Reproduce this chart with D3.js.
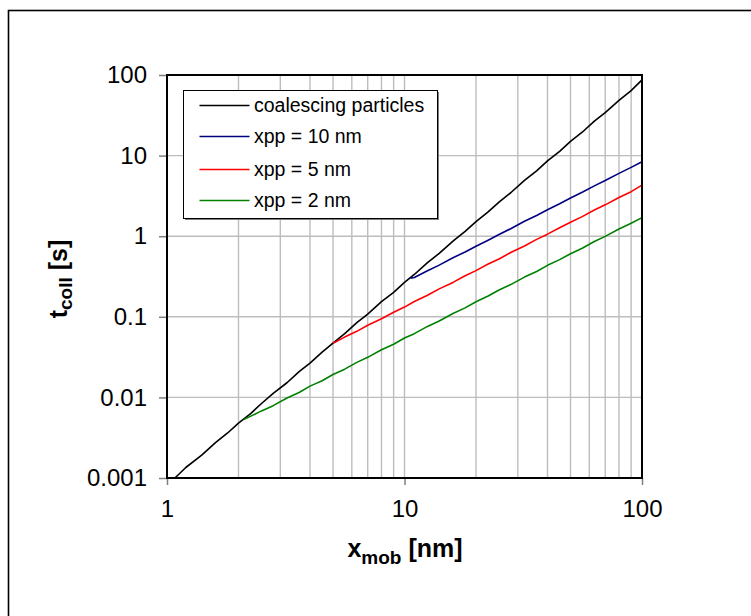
<!DOCTYPE html>
<html>
<head>
<meta charset="utf-8">
<script src="https://cdn.jsdelivr.net/npm/d3@7"></script>
<style>
  html, body { margin: 0; padding: 0; background: #fff; }
  svg { display: block; font-family: "Liberation Sans", Arial, sans-serif; }
</style>
</head>
<body>
<svg id="chart" width="751" height="616"></svg>
<script>
// Collision time vs. mobility diameter (log-log)
const xCoalescing = [1.08, 1.2, 1.4, 1.6, 1.8, 2.0, 2.25, 2.5, 2.8, 3.2, 3.6, 4.0, 4.5, 5.0, 5.6, 6.3, 7.0, 8.0, 9.0, 10, 11, 12.5, 14, 16, 18, 20, 22.5, 25, 28, 32, 36, 40, 45, 50, 56, 63, 70, 80, 90, 100];
const yCoalescing = [0.00100, 0.00135, 0.00192, 0.00275, 0.00362, 0.00480, 0.00630, 0.00840, 0.0112, 0.0152, 0.0209, 0.0266, 0.0364, 0.0470, 0.0618, 0.0845, 0.108, 0.154, 0.201, 0.268, 0.335, 0.470, 0.612, 0.870, 1.15, 1.52, 2.00, 2.65, 3.46, 4.92, 6.48, 8.60, 11.3, 15.0, 19.5, 26.8, 34.2, 48.5, 64.0, 87];

const xPp10 = [10.6, 11, 12.5, 14, 16, 18, 20, 22.5, 25, 28, 32, 36, 40, 45, 50, 56, 63, 70, 80, 90, 100];
const yPp10 = [0.300, 0.308, 0.372, 0.438, 0.540, 0.638, 0.752, 0.893, 1.05, 1.24, 1.53, 1.81, 2.13, 2.53, 2.98, 3.51, 4.21, 4.90, 6.02, 7.15, 8.40];

const xPp5 = [5.0, 5.6, 6.3, 7.0, 8.0, 9.0, 10, 11, 12.5, 14, 16, 18, 20, 22.5, 25, 28, 32, 36, 40, 45, 50, 56, 63, 70, 80, 90, 100];
const yPp5 = [0.0470, 0.0560, 0.0660, 0.0785, 0.0945, 0.114, 0.132, 0.155, 0.185, 0.222, 0.267, 0.323, 0.374, 0.452, 0.522, 0.627, 0.756, 0.913, 1.06, 1.27, 1.49, 1.75, 2.11, 2.45, 3.02, 3.57, 4.30];

const xPp2 = [2.1, 2.5, 2.8, 3.2, 3.6, 4.0, 4.5, 5.0, 5.6, 6.3, 7.0, 8.0, 9.0, 10, 11, 12.5, 14, 16, 18, 20, 22.5, 25, 28, 32, 36, 40, 45, 50, 56, 63, 70, 80, 90, 100];
const yPp2 = [0.00530, 0.00680, 0.00790, 0.00985, 0.0115, 0.0138, 0.0161, 0.0192, 0.0224, 0.0272, 0.0314, 0.0390, 0.0456, 0.0545, 0.0618, 0.0760, 0.0888, 0.110, 0.129, 0.154, 0.181, 0.215, 0.251, 0.311, 0.365, 0.435, 0.512, 0.607, 0.710, 0.860, 0.995, 1.23, 1.45, 1.70];

const seriesNames = ["coalescing particles", "xpp = 10 nm", "xpp = 5 nm", "xpp = 2 nm"];
const seriesColors = ["#000000", "#000080", "#ff0000", "#008000"];

const xTickValues = [1, 10, 100];
const xTickLabels = ["1", "10", "100"];
const yTickValues = [0.001, 0.01, 0.1, 1, 10, 100];
const yTickLabels = ["0.001", "0.01", "0.1", "1", "10", "100"];
const xGridValues = [2, 3, 4, 5, 6, 7, 8, 9, 10, 20, 30, 40, 50, 60, 70, 80, 90];

const svg = d3.select("#chart");
const plot = { left: 167, top: 75, right: 642, bottom: 478 };

const x = d3.scaleLog().domain([1, 100]).range([plot.left, plot.right]);
const y = d3.scaleLog().domain([0.001, 100]).range([plot.bottom, plot.top]);

// Outer frame
svg.append("rect")
  .attr("x", 8.5).attr("y", 10.5)
  .attr("width", 800).attr("height", 700)
  .attr("fill", "none").attr("stroke", "#000").attr("stroke-width", 1.6);

// Grid
const grid = svg.append("g").attr("stroke", "#bdbdbd").attr("stroke-width", 1.4);
grid.selectAll("line.v").data(xGridValues).join("line")
  .attr("x1", d => x(d)).attr("x2", d => x(d))
  .attr("y1", plot.top).attr("y2", plot.bottom);
grid.selectAll("line.h").data(yTickValues.slice(1, -1)).join("line")
  .attr("x1", plot.left).attr("x2", plot.right)
  .attr("y1", d => y(d)).attr("y2", d => y(d));

// Axes
const yAxis = d3.axisLeft(y).tickValues(yTickValues)
  .tickFormat((d, i) => yTickLabels[i]).tickSize(8).tickPadding(12);
const gy = svg.append("g").attr("transform", `translate(${plot.left},0)`).call(yAxis);
gy.select(".domain").remove();
gy.selectAll(".tick line").attr("stroke", "#7f7f7f").attr("stroke-width", 1.5);
gy.selectAll(".tick text").attr("font-size", 24).attr("fill", "#000")
  .attr("font-family", "Liberation Sans, Arial, sans-serif");

const xAxis = d3.axisBottom(x).tickValues(xTickValues)
  .tickFormat((d, i) => xTickLabels[i]).tickSize(7).tickPadding(15);
const gx = svg.append("g").attr("transform", `translate(0,${plot.bottom})`).call(xAxis);
gx.select(".domain").remove();
gx.selectAll(".tick line").attr("stroke", "#7f7f7f").attr("stroke-width", 1.5);
gx.selectAll(".tick text").attr("font-size", 24).attr("fill", "#000")
  .attr("font-family", "Liberation Sans, Arial, sans-serif");

// Series lines
const line = d3.line().x(d => x(d[0])).y(d => y(d[1]));
const series = [
  d3.zip(xCoalescing, yCoalescing),
  d3.zip(xPp10, yPp10),
  d3.zip(xPp5, yPp5),
  d3.zip(xPp2, yPp2)
];
svg.append("g").selectAll("path").data(series).join("path")
  .attr("d", line)
  .attr("fill", "none")
  .attr("stroke", (d, i) => seriesColors[i])
  .attr("stroke-width", 1.6)
  .attr("stroke-linejoin", "round");

// Plot border
svg.append("rect")
  .attr("x", plot.left).attr("y", plot.top)
  .attr("width", plot.right - plot.left).attr("height", plot.bottom - plot.top)
  .attr("fill", "none").attr("stroke", "#000").attr("stroke-width", 2);

// Legend
const legend = svg.append("g").attr("transform", "translate(183.5,90.5)");
legend.append("rect").attr("x", 1.5).attr("y", 1.5).attr("width", 254).attr("height", 128)
  .attr("fill", "#7f7f7f");
legend.append("rect").attr("width", 254).attr("height", 128)
  .attr("fill", "#fff").attr("stroke", "#000").attr("stroke-width", 1);
const rowY = [15, 46, 79, 110];
const rows = legend.selectAll("g.row").data(seriesNames).join("g")
  .attr("transform", (d, i) => `translate(0,${rowY[i]})`);
rows.append("line").attr("x1", 16).attr("x2", 66)
  .attr("stroke", (d, i) => seriesColors[i]).attr("stroke-width", 1.6);
rows.append("text").attr("x", 70.5).attr("y", 6.8)
  .attr("font-size", 19.5).attr("fill", "#000").text(d => d);

// Axis titles
const xt = svg.append("text").attr("x", 405).attr("y", 557)
  .attr("text-anchor", "middle").attr("font-weight", "bold").attr("font-size", 25);
xt.append("tspan").text("x");
xt.append("tspan").attr("font-size", 19).attr("dy", 7).text("mob");
xt.append("tspan").attr("dy", -7).text(" [nm]");

const yt = svg.append("text")
  .attr("transform", "translate(67,279) rotate(-90)")
  .attr("text-anchor", "middle").attr("font-weight", "bold").attr("font-size", 25);
yt.append("tspan").text("t");
yt.append("tspan").attr("font-size", 19).attr("dy", 5).text("coll");
yt.append("tspan").attr("dy", -5).text(" [s]");
</script>
</body>
</html>
